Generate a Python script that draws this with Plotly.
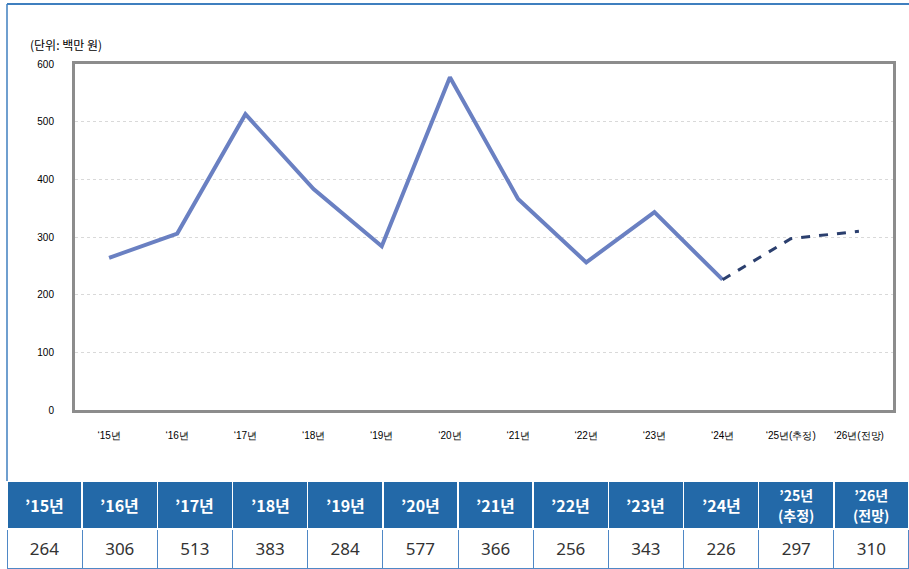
import plotly.graph_objects as go

# Yearly values (unit: million won)
axis_labels = ["‘15년", "‘16년", "‘17년", "‘18년", "‘19년", "‘20년", "‘21년",
               "‘22년", "‘23년", "‘24년", "‘25년(추정)", "‘26년(전망)"]
table_headers = ["’15년", "’16년", "’17년", "’18년", "’19년", "’20년", "’21년",
                 "’22년", "’23년", "’24년", "’25년<br>(추정)", "’26년<br>(전망)"]
values = [264, 306, 513, 383, 284, 577, 366, 256, 343, 226, 297, 310]
actual_count = 10  # '15–'24 are actual; '25 estimate, '26 forecast
y_ticks = [0, 100, 200, 300, 400, 500, 600]

W, H = 909, 569
TABLE_LEFT, TABLE_TOP = 7, 481          # px
HEADER_H, ROW_H = 48, 39                 # px
fig = go.Figure()

# Actual values: solid line
fig.add_trace(go.Scatter(
    x=axis_labels[:actual_count], y=values[:actual_count],
    mode="lines", line=dict(color="#6a80c2", width=4),
    showlegend=False, hoverinfo="x+y"))

# Estimate / forecast: dashed line starting from the last actual year
fig.add_trace(go.Scatter(
    x=axis_labels[actual_count - 1:], y=values[actual_count - 1:],
    mode="lines", line=dict(color="#2b3f6e", width=3, dash="dash"),
    showlegend=False, hoverinfo="x+y"))

# Data table under the chart (header labels are centred via annotations)
n_cols = len(values)
header_fill = ["#2369a8"] * actual_count + ["#1d5570"] * (n_cols - actual_count)
# table text is top-aligned; a tiny leading line nudges the numbers down
value_text = [[f"<br><span style='font-size:17px'>{v}</span>"] for v in values]
fig.add_trace(go.Table(
    domain=dict(x=[TABLE_LEFT / W, 1.0], y=[0, (H - TABLE_TOP) / H]),
    columnwidth=[1] * n_cols,
    header=dict(
        values=[""] * n_cols,
        fill_color=[header_fill],
        line=dict(color="#ffffff", width=1.5),
        height=HEADER_H),
    cells=dict(
        values=value_text,
        fill_color="#ffffff",
        line=dict(color="#4f88c6", width=1),
        font=dict(family="Noto Sans", size=4.6, color="#333333"),
        align="center", height=ROW_H),
))

col_w = (W - TABLE_LEFT) / n_cols
header_y = (H - (TABLE_TOP + HEADER_H / 2)) / H
header_notes = []
for i, label in enumerate(table_headers):
    two_lines = "<br>" in label
    size = 14 if two_lines else 16
    txt = "<br>".join(f"<span style='font-size:{size}px'><b>{p}</b></span>"
                      for p in label.split("<br>"))
    header_notes.append(dict(
        text=txt, xref="paper", yref="paper",
        x=(TABLE_LEFT + col_w * (i + 0.5)) / W, y=header_y,
        xanchor="center", yanchor="middle", showarrow=False,
        font=dict(family="Noto Sans CJK KR", size=15.5 if two_lines else 16,
                  color="#ffffff")))

fig.update_layout(
    width=W, height=H,
    margin=dict(l=0, r=0, t=0, b=0, autoexpand=False),
    paper_bgcolor="#ffffff", plot_bgcolor="#ffffff",
    xaxis=dict(
        type="category", categoryorder="array", categoryarray=axis_labels,
        domain=[75 / W, 893 / W], range=[-0.5, n_cols - 0.5],
        showgrid=False, showline=True, mirror=True, automargin=False,
        linecolor="#8c8c8c", linewidth=3, ticks="",
        ticklabelstandoff=14,
        tickfont=dict(family="Liberation Sans", size=10, color="#000000")),
    yaxis=dict(
        domain=[(H - 410) / H, (H - 64) / H], range=[0, 600],
        tickvals=y_ticks, showgrid=True, gridcolor="#d9d9d9",
        griddash="dot", gridwidth=1, zeroline=False, automargin=False,
        showline=True, mirror=True, linecolor="#8c8c8c", linewidth=3,
        ticks="", ticklabelstandoff=16,
        tickfont=dict(family="Liberation Sans", size=10, color="#000000")),
    annotations=[dict(
        text="(단위: 백만 원)", xref="paper", yref="paper",
        x=28 / W, y=(H - 44) / H, xanchor="left", yanchor="middle",
        showarrow=False,
        font=dict(family="Noto Sans CJK KR", size=12, color="#000000"))]
        + header_notes,
    shapes=[
        # outer frame: top and left edges
        dict(type="line", xref="paper", yref="paper",
             x0=TABLE_LEFT / W, x1=1, y0=(H - 4) / H, y1=(H - 4) / H,
             line=dict(color="#3f7fbf", width=2)),
        dict(type="line", xref="paper", yref="paper",
             x0=TABLE_LEFT / W, x1=TABLE_LEFT / W,
             y0=(H - TABLE_TOP) / H, y1=(H - 4) / H,
             line=dict(color="#3f7fbf", width=1.5)),
    ],
)

fig.write_html("out.html")
